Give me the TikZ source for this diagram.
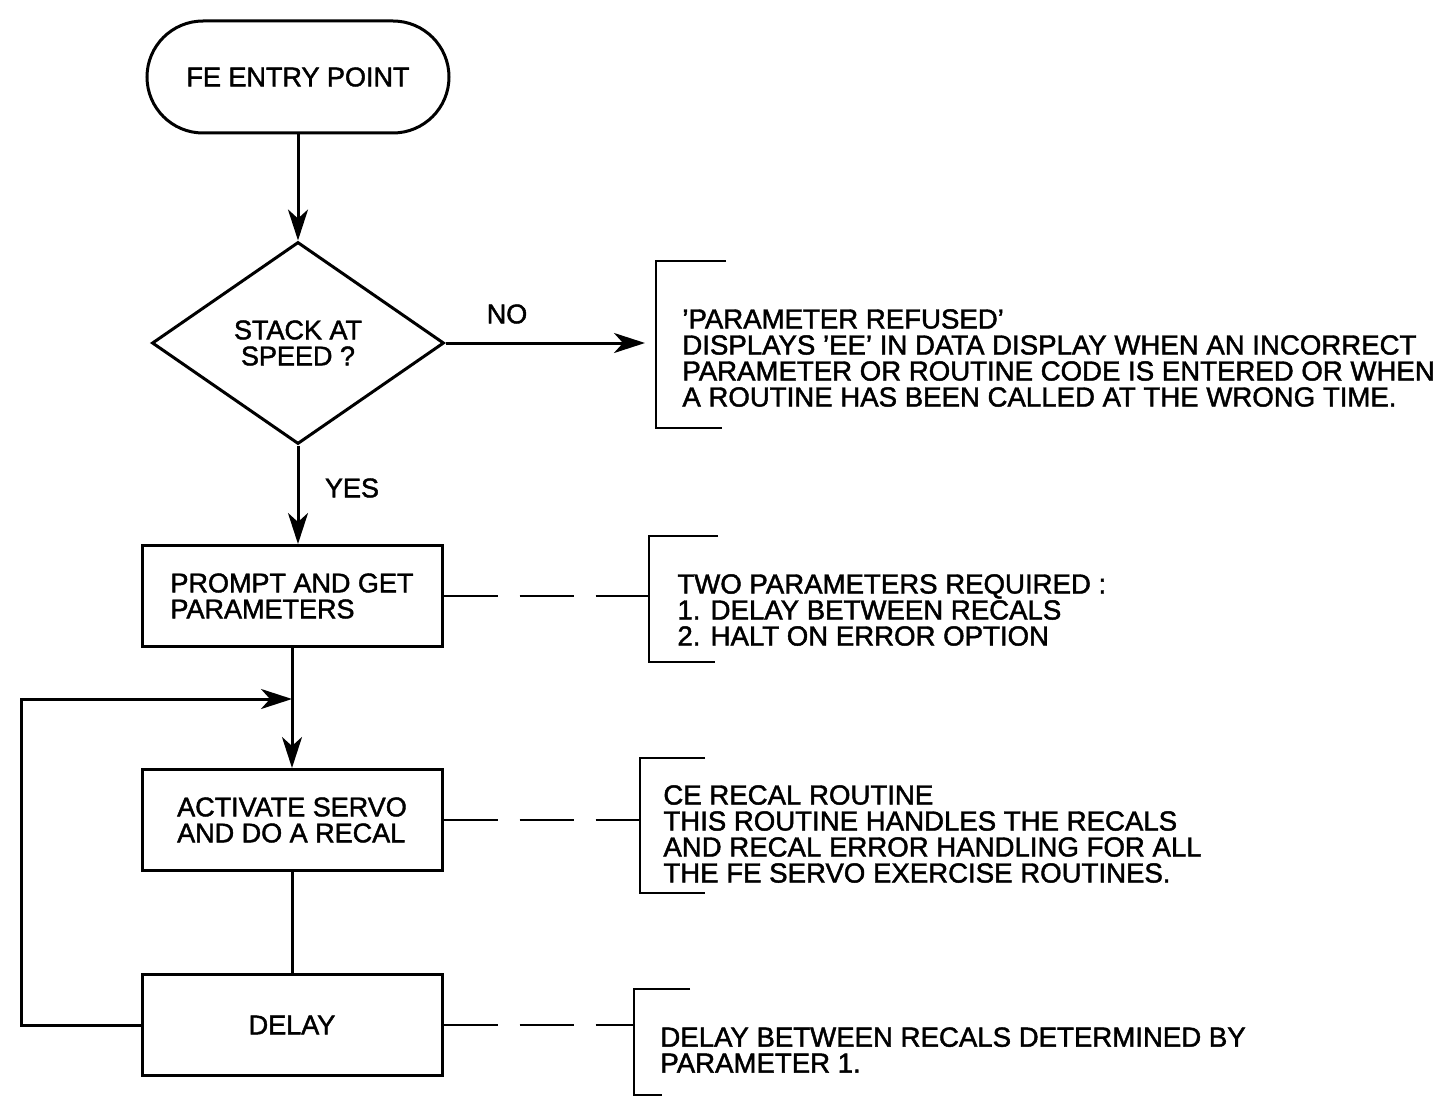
\documentclass[tikz,border=0pt]{standalone}
\usepackage{fontspec}
\setmainfont[UprightFeatures={FakeBold=1.6}]{Liberation Sans}
\usetikzlibrary{shapes.geometric,arrows.meta}
\begin{document}
\begin{tikzpicture}[x=0.5pt,y=-0.5pt,
  every node/.style={font=\fontsize{13.5}{13}\selectfont},
  ln/.style={line width=1.5pt},
  arr/.style={ln,-{Stealth[length=15.5pt,width=10pt,inset=4.5pt]}},
  dashlink/.style={line width=1.3pt,dash pattern=on 27pt off 11pt},
  brk/.style={line width=1.3pt},
  termbox/.style={draw,ln,rounded corners=28pt,minimum width=151pt,minimum height=56pt,inner sep=0pt},
  decision/.style={draw,ln,shape=diamond,aspect=1.45,minimum width=146pt,minimum height=101pt,inner sep=0pt,align=center},
  procbox/.style={draw,ln,minimum width=150pt,minimum height=50.5pt,inner sep=0pt,align=left},
  note/.style={anchor=west,align=left,inner sep=0pt,font=\fontsize{13.8}{13}\selectfont},
  lbl/.style={inner sep=0pt}]
\useasboundingbox (0,0) rectangle (1447,1097);

% main flow
\node[termbox] (entry) at (298,77) {FE ENTRY POINT};
\node[decision] (stack) at (298,343) {STACK AT\\SPEED ?};
\node[procbox] (prompt) at (292,596) {PROMPT AND GET\\PARAMETERS};
\node[procbox] (servo) at (292,820) {ACTIVATE SERVO\\AND DO A RECAL};
\node[procbox] (delay) at (292,1025) {DELAY};

\draw[arr] (entry) -- (stack);
\draw[arr] (stack.south) -- (stack.south |- prompt.north);
\draw[arr] (prompt) -- (servo);
\draw[ln] (servo) -- (delay);

% loop back
\coordinate (loopcorner) at (21,699);
\coordinate (join) at (292,699);
\draw[arr] (delay.west) -| (loopcorner) -- (join);

% labels
\node[lbl] (nolbl) at (507,314) {NO};
\node[lbl] (yeslbl) at (352,488) {YES};

% NO branch
\coordinate (refused) at (645,343);
\draw[arr] (stack.east) -- (refused);

% annotation brackets
\draw[brk] (726,261) -- (656,261) -- (656,428) -- (722,428);
\draw[brk] (718,536) -- (649,536) -- (649,662) -- (715,662);
\draw[brk] (705,758) -- (640,758) -- (640,893) -- (705,893);
\draw[brk] (690,989) -- (634,989) -- (634,1095) -- (662,1095);

\coordinate (n2) at (649,596);
\coordinate (n3) at (640,820);
\coordinate (n4) at (634,1025);
\draw[dashlink] (prompt.east) -- (n2);
\draw[dashlink] (servo.east) -- (n3);
\draw[dashlink] (delay.east) -- (n4);

% annotation texts
\node[note] (t1) at (682,358) {'PARAMETER REFUSED'\\DISPLAYS 'EE' IN DATA DISPLAY WHEN AN INCORRECT\\PARAMETER OR ROUTINE CODE IS ENTERED OR WHEN\\A ROUTINE HAS BEEN CALLED AT THE WRONG TIME.};
\node[note] (t2) at (677,610) {TWO PARAMETERS REQUIRED :\\1. DELAY BETWEEN RECALS\\2. HALT ON ERROR OPTION};
\node[note] (t3) at (663,834) {CE RECAL ROUTINE\\THIS ROUTINE HANDLES THE RECALS\\AND RECAL ERROR HANDLING FOR ALL\\THE FE SERVO EXERCISE ROUTINES.};
\node[note] (t4) at (660,1050) {DELAY BETWEEN RECALS DETERMINED BY\\PARAMETER 1.};
\end{tikzpicture}
\end{document}
